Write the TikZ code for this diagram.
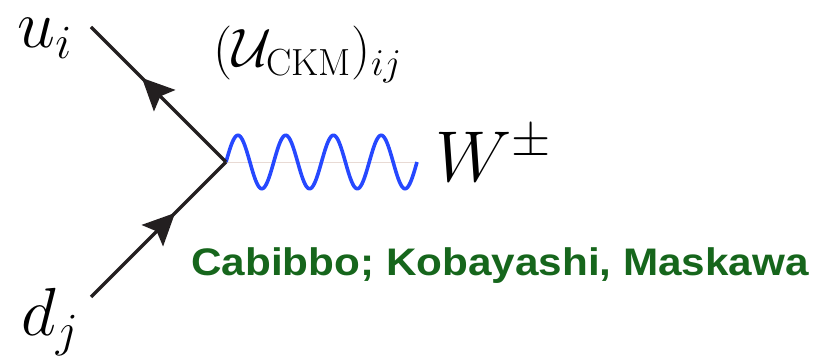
\RequirePackage{fix-cm}
\documentclass[tikz,border=0pt]{standalone}
\usepackage{fontspec}
\newfontfamily\authorsans{Liberation Sans}
\usetikzlibrary{arrows.meta,decorations.markings}
\definecolor{fermioncol}{RGB}{35,31,32}
\definecolor{bosoncol}{RGB}{38,72,255}
\definecolor{authorcol}{RGB}{22,102,28}
\definecolor{guidecol}{RGB}{232,218,212}
\begin{document}
\begin{tikzpicture}[x=0.5pt,y=-0.5pt,
  fermionline/.style={color=fermioncol,line width=1.6pt,postaction={decorate},
    decoration={markings,mark=at position 0.623 with {\arrow{Stealth[length=16pt,width=15pt,inset=3pt]}}}},
  bosonline/.style={draw=bosoncol,line width=1.8pt},
  guideline/.style={draw=guidecol,line width=0.4pt},
  biglab/.style={inner sep=0pt,anchor=base west,font=\fontsize{34}{40}\selectfont},
  wlab/.style={inner sep=0pt,anchor=base west,font=\fontsize{36}{42}\selectfont},
  ckmlab/.style={inner sep=0pt,anchor=base west,font=\fontsize{27}{31}\selectfont},
  authlab/.style={inner sep=0pt,anchor=base west,text=authorcol,xscale=1.1,font=\authorsans\bfseries\fontsize{19.2}{23}\selectfont}]
\useasboundingbox (0,0) rectangle (817,356);
\coordinate (v) at (226,162);
\coordinate (uend) at (91,27);
\coordinate (dend) at (91,297);
\coordinate (wend) at (417,162);
\draw[guideline] (v) -- (wend);
\draw[bosonline,shift={(v)}] plot[domain=0:191,samples=240,smooth] (\x,{-26.7*sin(\x*7.5393)});
\draw[fermionline] (v) -- (uend);
\draw[fermionline] (dend) -- (v);
\node[biglab] (ulab) at (17,48) {$u_i$};
\node[biglab] (dlab) at (21,336) {$d_j$};
\node[wlab] (wlabel) at (435,182) {$W^{\pm}$};
\node[ckmlab] (ckm) at (213,67) {$(\mathcal{U}_{\mathrm{CKM}})_{ij}$};
\node[authlab] (names) at (191,275.5) {Cabibbo; Kobayashi, Maskawa};
\end{tikzpicture}
\end{document}
